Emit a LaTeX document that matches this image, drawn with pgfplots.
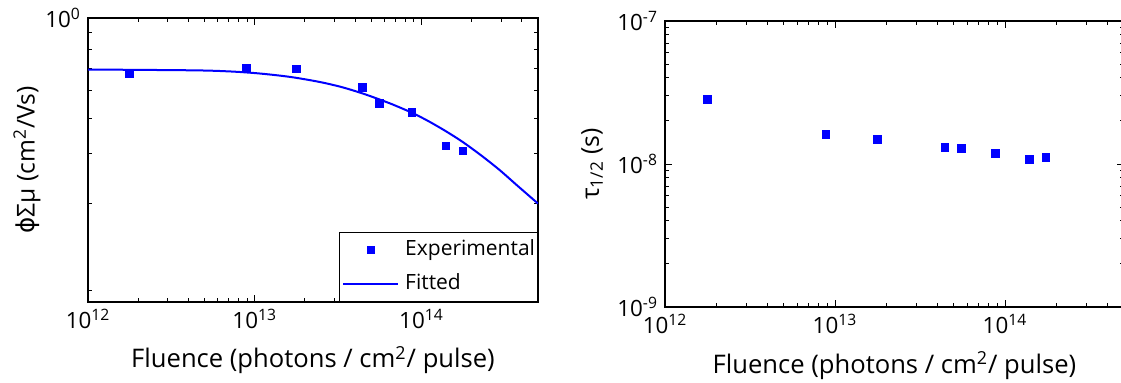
\documentclass[border=0pt]{standalone}
\usepackage{fontspec}
\setmainfont{Open Sans}
\newfontfamily\dejavu{DejaVu Sans}
\usepackage{pgfplots}
\pgfplotsset{compat=1.18}
\definecolor{pblue}{RGB}{0,0,255}
\pgfplotsset{legend image code/.code={\draw[mark repeat=2,mark phase=2,#1] plot coordinates {(0pt,0pt) (13.75pt,0pt) (27.5pt,0pt)};}}
\begin{document}
\begin{tikzpicture}
\useasboundingbox (0pt,0pt) rectangle (560.5pt,191.5pt);
\begin{axis}[scale only axis, anchor=south west,
  at={(44pt,40.5pt)}, width=225pt, height=142pt,
  xmode=log, ymode=log,
  tick align=inside,
  major tick length=3.5pt, minor tick length=2pt,
  axis line style={line width=0.6pt},
  tick style={black, line width=0.5pt},
  tick label style={font=\fontsize{11.2}{13}\selectfont},
  label style={font=\fontsize{12.3}{14}\selectfont},
  xmin=1e12, xmax=5e14,
  xtick={1e12,1e13,1e14},
  xticklabels={10\textsuperscript{12},10\textsuperscript{13},10\textsuperscript{14}},
  minor xtick={2e12,3e12,4e12,5e12,6e12,7e12,8e12,9e12,2e13,3e13,4e13,5e13,6e13,7e13,8e13,9e13,2e14,3e14,4e14},
  xlabel={Fluence (photons / cm\textsuperscript{2}/ pulse)},
  ymin=0.141, ymax=1, ytick={1}, yticklabels={10\textsuperscript{0}},
  minor ytick={0.9017,0.807,0.708,0.606,0.5,0.392,0.278,0.153},
  ylabel={{\dejavu ϕ}Σμ (cm\textsuperscript{2}/Vs)},
  ylabel style={at={(axis description cs:-0.1356,0.5)}, anchor=center},
  xlabel style={at={(axis description cs:0.5,-0.2324)}, anchor=base, font=\fontsize{12.8}{14}\selectfont},
  legend style={at={(rel axis cs:1,0)}, anchor=south east, draw=black, line width=0.6pt,
    fill=white, inner xsep=1.2pt, inner ysep=3.5pt, row sep=6.5pt, column sep=3pt,
    font=\fontsize{10.5}{12}\selectfont,
    nodes={inner sep=0pt, text height=8pt, text depth=2.5pt}},
  legend cell align=left]
\addplot[only marks, mark=square*, mark size=1.9pt, color=pblue, line width=0.3pt]
  coordinates {(1.77e12,0.684) (8.9e12,0.708) (1.77e13,0.705) (4.4e13,0.621) (5.57e13,0.556) (8.77e13,0.522) (1.40e14,0.414) (1.77e14,0.400)};
\addlegendentry{Experimental}
\addplot[color=pblue, line width=1pt, smooth, mark=none]
  coordinates {(1e12,0.701) (4.25e12,0.697) (6.95e12,0.692) (1.0e13,0.684) (1.38e13,0.673) (1.77e13,0.662) (2.5e13,0.642) (3.36e13,0.620) (4.4e13,0.595) (5.5e13,0.572) (6.7e13,0.551) (8.78e13,0.520) (1.1e14,0.491) (1.4e14,0.458) (1.77e14,0.425) (2.29e14,0.387) (2.93e14,0.351) (3.75e14,0.315) (5e14,0.278)};
\addlegendentry{Fitted}
\end{axis}
\begin{axis}[scale only axis, anchor=south west,
  at={(332.5pt,38pt)}, width=229.4pt, height=143pt,
  xmode=log, ymode=log,
  tick align=inside,
  major tick length=3.5pt, minor tick length=2pt,
  axis line style={line width=0.6pt},
  tick style={black, line width=0.5pt},
  tick label style={font=\fontsize{11.2}{13}\selectfont},
  label style={font=\fontsize{12.3}{14}\selectfont},
  xmin=1e12, xmax=5e14,
  xtick={1e12,1e13,1e14},
  xticklabels={10\textsuperscript{12},10\textsuperscript{13},10\textsuperscript{14}},
  minor xtick={2e12,3e12,4e12,5e12,6e12,7e12,8e12,9e12,2e13,3e13,4e13,5e13,6e13,7e13,8e13,9e13,2e14,3e14,4e14},
  xlabel={Fluence (photons / cm\textsuperscript{2}/ pulse)},
  ymin=1e-9, ymax=1e-7, ytick={1e-9,1e-8,1e-7},
  yticklabels={10\textsuperscript{-9},10\textsuperscript{-8},10\textsuperscript{-7}},
  minor ytick={2e-9,3e-9,4e-9,5e-9,6e-9,7e-9,8e-9,9e-9,2e-8,3e-8,4e-8,5e-8,6e-8,7e-8,8e-8,9e-8},
  ylabel={τ\textsubscript{1/2} (s)},
  ylabel style={at={(axis description cs:-0.159,0.5)}, anchor=center},
  xlabel style={at={(axis description cs:0.5,-0.2308)}, anchor=base, font=\fontsize{12.8}{14}\selectfont}]
\addplot[only marks, mark=square*, mark size=1.9pt, color=pblue, line width=0.3pt]
  coordinates {(1.77e12,2.83e-8) (8.83e12,1.61e-8) (1.77e13,1.49e-8) (4.42e13,1.31e-8) (5.55e13,1.29e-8) (8.79e13,1.19e-8) (1.39e14,1.08e-8) (1.74e14,1.11e-8)};
\end{axis}
\end{tikzpicture}
\end{document}
